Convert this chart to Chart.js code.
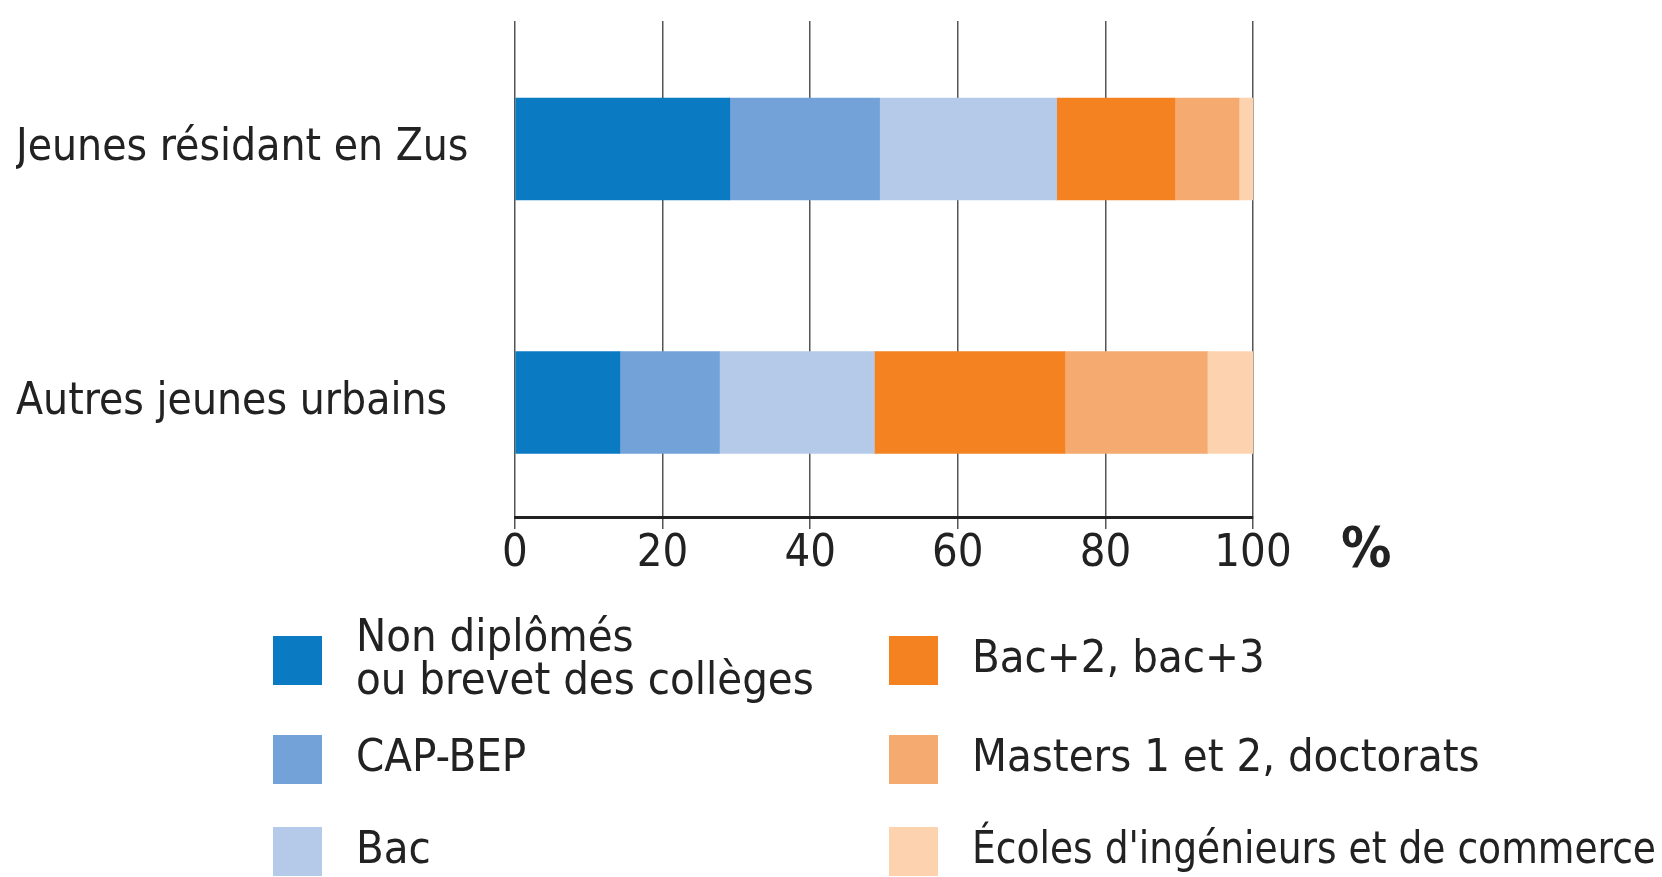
<!DOCTYPE html>
<html>
<head>
<meta charset="utf-8">
<script src="https://cdn.jsdelivr.net/npm/chart.js@4/dist/chart.umd.min.js"></script>
<style>
  html, body { margin: 0; padding: 0; background: #ffffff; }
  #wrap { width: 1662px; height: 877px; position: relative; }
</style>
</head>
<body>
<div id="wrap"><canvas id="c" width="1662" height="877"></canvas></div>
<script>
// ---- Data ----
const categories = ['Jeunes résidant en Zus', 'Autres jeunes urbains'];
const seriesLabels = [
  ['Non diplômés', 'ou brevet des collèges'],
  'CAP-BEP',
  'Bac',
  'Bac+2, bac+3',
  'Masters 1 et 2, doctorats',
  "Écoles d'ingénieurs et de commerce"
];
const nonDiplomes = [29.1, 14.2];
const capBep      = [20.3, 13.5];
const bac         = [24.0, 21.0];
const bac23       = [16.0, 25.8];
const masters     = [8.7, 19.3];
const ecoles      = [1.9, 6.2];
const xTicks = [0, 20, 40, 60, 80, 100];
const unitLabel = '%';

const seriesValues = [nonDiplomes, capBep, bac, bac23, masters, ecoles];
const colors = ['#0a7ac3', '#72a2d7', '#b5cae8', '#f58221', '#f5ab6f', '#fcd3ae'];

const FONT = "'DejaVu Sans Condensed', 'DejaVu Sans', sans-serif";
const TEXT = '#222222';

const datasets = seriesValues.map((vals, i) => ({
  label: seriesLabels[i],
  data: vals.map((v, j) => ({ x: v, y: j })),
  backgroundColor: colors[i],
  borderWidth: 0,
  barThickness: 102
}));

const unitPlugin = {
  id: 'unitLabel',
  afterDraw(chart) {
    const ctx = chart.ctx;
    const xs = chart.scales.x;
    ctx.save();
    ctx.font = 'bold 56px ' + FONT;
    ctx.fillStyle = TEXT;
    ctx.textAlign = 'left';
    ctx.textBaseline = 'middle';
    ctx.fillText(unitLabel, xs.getPixelForValue(100) + 88, 551);
    ctx.restore();
  }
};

const legendPlugin = {
  id: 'gridLegend',
  afterDraw(chart) {
    const ctx = chart.ctx;
    const colX = [273, 889];
    const rowY = [636, 735, 827];
    const size = 49;
    const lineGap = 43;
    ctx.save();
    ctx.font = '45px ' + FONT;
    ctx.textAlign = 'left';
    ctx.textBaseline = 'middle';
    chart.data.datasets.forEach((ds, i) => {
      const col = i < 3 ? 0 : 1;
      const row = i % 3;
      const x = colX[col];
      const y = rowY[row];
      ctx.fillStyle = ds.backgroundColor;
      ctx.fillRect(x, y, size, size);
      ctx.fillStyle = TEXT;
      const lines = Array.isArray(ds.label) ? ds.label : [ds.label];
      const cy = y + size / 2;
      const start = cy - (lines.length - 1) * lineGap / 2;
      const tx = x + 83;
      const maxW = chart.width - tx - 6;
      lines.forEach((t, k) => ctx.fillText(t, tx, start + k * lineGap, maxW));
    });
    ctx.restore();
  }
};

new Chart(document.getElementById('c'), {
  type: 'bar',
  data: { datasets },
  options: {
    indexAxis: 'y',
    responsive: false,
    animation: false,
    devicePixelRatio: 1,
    layout: { padding: { left: 16, top: 21, right: 409, bottom: 280 } },
    plugins: {
      legend: { display: false },
      tooltip: { enabled: false }
    },
    scales: {
      x: {
        type: 'linear',
        stacked: true,
        min: 0,
        max: 100,
        afterBuildTicks(scale) { scale.ticks = xTicks.map(v => ({ value: v })); },
        afterFit(scale) { scale.height = 80; },
        grid: { color: '#555555', lineWidth: 1.5, drawTicks: true, tickLength: 12, tickColor: '#555555' },
        border: { display: true, color: '#222222', width: 3 },
        ticks: { color: TEXT, font: { family: FONT, size: 45 }, padding: -2 }
      },
      y: {
        type: 'linear',
        stacked: true,
        reverse: true,
        offset: false,
        min: -0.5049,
        max: 1.4517,
        afterBuildTicks(scale) { scale.ticks = categories.map((_, i) => ({ value: i })); },
        afterFit(scale) { scale.width = 499; scale.paddingTop = 0; scale.paddingBottom = 0; },
        grid: { display: false, drawTicks: false, offset: false },
        border: { display: false },
        ticks: {
          crossAlign: 'far',
          color: TEXT,
          font: { family: FONT, size: 44 },
          callback: (v) => categories[v]
        }
      }
    }
  },
  plugins: [unitPlugin, legendPlugin]
});
</script>
</body>
</html>
